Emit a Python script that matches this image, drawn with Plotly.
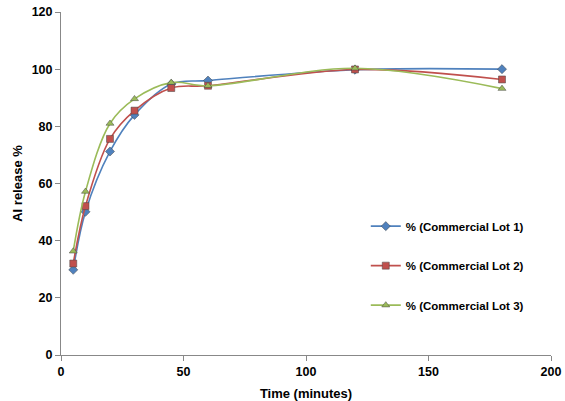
import plotly.graph_objects as go

time_min = [5, 10, 20, 30, 45, 60, 120, 180]
lot1 = [29.8, 50.1, 71.2, 84.0, 94.8, 96.0, 99.8, 100.0]
lot2 = [32.0, 52.1, 75.6, 85.5, 93.4, 94.2, 99.9, 96.4]
lot3 = [36.3, 57.2, 81.0, 89.6, 95.3, 94.2, 100.3, 93.2]

names = ["% (Commercial Lot 1)", "% (Commercial Lot 2)", "% (Commercial Lot 3)"]
colors = ["#4F81BD", "#C0504D", "#9BBB59"]
symbols = ["diamond", "square", "triangle-up"]
sizes = [7, 7, 7]

fig = go.Figure()
for i, ys in enumerate([lot1, lot2, lot3]):
    fig.add_trace(go.Scatter(
        x=time_min, y=ys, name=names[i], mode="lines+markers",
        line=dict(color=colors[i], width=1.6, shape="spline", smoothing=1.0),
        marker=dict(symbol=symbols[i], size=sizes[i], color=colors[i],
                    line=dict(color="#444444", width=0.5)),
        legendgroup=f"g{i}",
    ))

font = "Liberation Sans, Arial, sans-serif"
fig.update_layout(
    width=565, height=401,
    margin=dict(l=61, r=14, t=12, b=46),
    paper_bgcolor="white", plot_bgcolor="white",
    font=dict(family=font, size=12, color="#000000"),
    showlegend=True,
    legend=dict(x=0.622, y=0.418, xanchor="left", yanchor="top",
                tracegroupgap=20.5, font=dict(family=font, size=11.5, color="#000000", weight="bold"),
                itemwidth=30, bgcolor="rgba(0,0,0,0)"),
    xaxis=dict(range=[0, 200], tickvals=[0, 50, 100, 150, 200], automargin=False,
               ticklabeloverflow="allow",
               showgrid=False, zeroline=False, showline=True, linecolor="#888888",
               linewidth=1, ticks="outside", ticklen=5, tickcolor="#888888",
               tickfont=dict(family=font, size=12.5, color="#000000", weight="bold"),
               title=dict(text="<b>Time (minutes)</b>", font=dict(size=13), standoff=11)),
    yaxis=dict(range=[0, 120], tickvals=[0, 20, 40, 60, 80, 100, 120], automargin=False,
               ticklabeloverflow="allow",
               showgrid=False, zeroline=False, showline=True, linecolor="#888888",
               linewidth=1, ticks="outside", ticklen=5, tickcolor="#888888",
               tickfont=dict(family=font, size=12.5, color="#000000", weight="bold"),
               title=dict(text="<b>AI release %</b>", font=dict(size=13), standoff=6)),
)

fig.write_html("out.html", config={"displayModeBar": False},
               post_script="document.body.style.margin='0';document.body.style.overflow='hidden';")
